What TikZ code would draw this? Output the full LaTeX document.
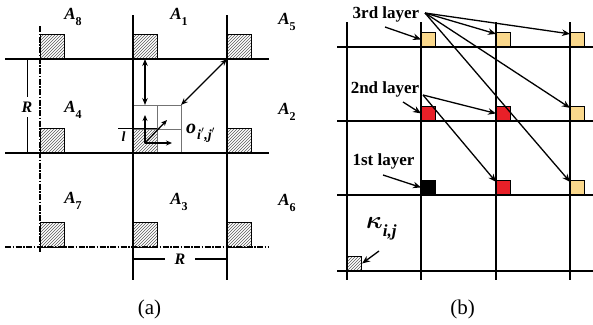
\documentclass[tikz,border=0pt]{standalone}
\usepackage{amsmath}
\usepackage{fontspec}
\setmainfont{Liberation Serif}
\usetikzlibrary{arrows.meta,patterns}
\definecolor{lyellow}{HTML}{FAD88C}
\definecolor{lred}{HTML}{E82028}
\newcommand\Alab[1]{A\raisebox{-6pt}{\fontsize{12}{12}\selectfont\upshape #1}}
\begin{document}
\begin{tikzpicture}[x=1pt,y=-1pt,
  gridline/.style={line width=1.8pt},
  dashdot/.style={line width=1.8pt, dash pattern=on 6pt off 1.5pt on 1.5pt off 1.5pt},
  hatchsq/.style={draw, line width=0.9pt, pattern=north east lines, pattern color=black!65},
  fineline/.style={black!55, line width=0.8pt},
  arr/.style={-{Stealth[length=8pt,width=6.5pt]}, line width=1.3pt},
  smallarr/.style={-{Stealth[length=6pt,width=5pt]}, line width=1.3pt},
  dblarr/.style={{Stealth[length=7pt,width=5.5pt]}-{Stealth[length=7pt,width=5.5pt]}, line width=1.3pt},
  alabel/.style={font=\fontsize{17}{17}\selectfont\bfseries\itshape, inner sep=0pt},
  layer/.style={font=\fontsize{17}{17}\selectfont\bfseries, inner sep=0pt},
  captext/.style={font=\fontsize{21}{21}\selectfont, inner sep=0pt},
  sq/.style={draw, line width=1.1pt, minimum size=14pt, inner sep=0pt, anchor=south west}
]
\useasboundingbox (0,0) rectangle (593,324);

% ---------------- panel (a) ----------------
\foreach \x in {40,133,227}{
  \foreach \y in {59,153,247}{
    \draw[hatchsq] (\x,\y-25) rectangle +(24,25);
  }
}
\draw[fineline] (133,105) rectangle (181,153);
\draw[fineline] (157,105) -- (157,153);
\draw[fineline] (133,129) -- (181,129);

\draw[gridline] (5,59) -- (269,59);
\draw[gridline] (5,153) -- (269,153);
\draw[dashdot] (5,247) -- (269,247);
\draw[gridline] (133,15) -- (133,280);
\draw[gridline] (227,15) -- (227,280);
\draw[dashdot] (40,26) -- (40,252);

\node[alabel] (A8) at (73,17) {\Alab{8}};
\node[alabel] (A1) at (179,17) {\Alab{1}};
\node[alabel] (A5) at (287,22) {\Alab{5}};
\node[alabel] (A4) at (73,110) {\Alab{4}};
\node[alabel] (A2) at (287,112) {\Alab{2}};
\node[alabel] (A7) at (73,201) {\Alab{7}};
\node[alabel] (A3) at (179,202) {\Alab{3}};
\node[alabel] (A6) at (287,203) {\Alab{6}};

% R dimensions
\node[alabel, font=\fontsize{16}{16}\selectfont\bfseries\itshape] (Rl) at (27,107) {R};
\coordinate (Rlt) at (27.5,59);
\coordinate (Rlb) at (27.5,153);
\draw[line width=1.3pt] (Rlt) -- (27.5,97);
\draw[line width=1.3pt] (Rlb) -- (27.5,117);
\node[alabel, font=\fontsize{16}{16}\selectfont\bfseries\itshape] (Rb) at (180,259) {R};
\coordinate (Rbl) at (133,259);
\coordinate (Rbr) at (227,259);
\draw[line width=1.3pt] (Rbl) -- (165,259);
\draw[line width=1.3pt] (195,259) -- (Rbr);

% distance arrows
\coordinate (c1) at (145,59);
\coordinate (c2) at (145,105);
\draw[dblarr] (c1) -- (c2);
\coordinate (d1) at (227,59);
\coordinate (d2) at (181,105);
\draw[dblarr] (d1) -- (d2);

\coordinate (o) at (145,143);
\coordinate (ou) at (145,115);
\coordinate (or) at (172,143);
\coordinate (od) at (167,120);
\draw[smallarr] (o) -- (ou);
\draw[smallarr] (o) -- (or);
\draw[smallarr] (o) -- (od);

% l marker
\coordinate (l1) at (118,128);
\coordinate (l2) at (133,128);
\draw[line width=0.9pt] (l1) -- (l2);
\node[alabel, font=\fontsize{14}{14}\selectfont\bfseries\itshape] (lab) at (123.5,137) {l};

% o label
\node[alabel, font=\fontsize{20}{20}\selectfont\bfseries\itshape, anchor=west] (olab) at (186,133)
  {o\hspace{1pt}\raisebox{-6pt}{\fontsize{14}{14}\selectfont i$'$,j$'$}};

\node[captext] (capa) at (149.5,309) {(a)};

% ---------------- panel (b) ----------------
\foreach \y in {47,121,195,271}{
  \draw[gridline] (337,\y) -- (593,\y);
}
\foreach \x in {347,421,496,570}{
  \draw[gridline] (\x,22) -- (\x,280);
}

\node[sq, fill=lyellow] (y3a) at (421,47) {};
\node[sq, fill=lyellow] (y3b) at (496,47) {};
\node[sq, fill=lyellow] (y3c) at (570,47) {};
\node[sq, fill=lyellow] (y2c) at (570,121) {};
\node[sq, fill=lyellow] (y1c) at (570,195) {};
\node[sq, fill=lred] (r2a) at (421,121) {};
\node[sq, fill=lred] (r2b) at (496,121) {};
\node[sq, fill=lred] (r1b) at (496,195) {};
\node[sq, fill=black] (b1a) at (421,195) {};
\node[sq, pattern=north east lines, pattern color=black!65] (k) at (347,271) {};

\node[layer] (L3) at (386,14) {3rd layer};
\node[layer] (L2) at (385,89) {2nd layer};
\node[layer] (L1) at (383.5,161) {1st layer};
\node[alabel, font=\fontsize{17}{17}\selectfont\bfseries\itshape, anchor=west] (kl) at (366,229)
  {\fontsize{28}{28}\selectfont$\boldsymbol{\kappa}$\raisebox{-8pt}{\fontsize{17}{17}\selectfont i,j}};

\coordinate (s3) at (425,13);
\coordinate (s2) at (423,95);
\draw[arr] (385,27) -- (y3a.west);
\draw[arr] (s3) -- ([yshift=-2pt]y3b.north west);
\draw[arr] (s3) -- ([yshift=-2pt]y3c.north west);
\draw[arr] (s3) -- ([yshift=-2pt]y2c.north west);
\draw[arr] (s3) -- ([yshift=-2pt]y1c.north west);
\draw[arr] (403,102) -- (r2a.west);
\draw[arr] (s2) -- (r2b.west);
\draw[arr] (s2) -- ([yshift=-2pt]r1b.north west);
\draw[arr] (383,175) -- (b1a.west);
\draw[arr] (379,251) -- (k.east);

\node[captext] (capb) at (462.5,309) {(b)};
\end{tikzpicture}
\end{document}
